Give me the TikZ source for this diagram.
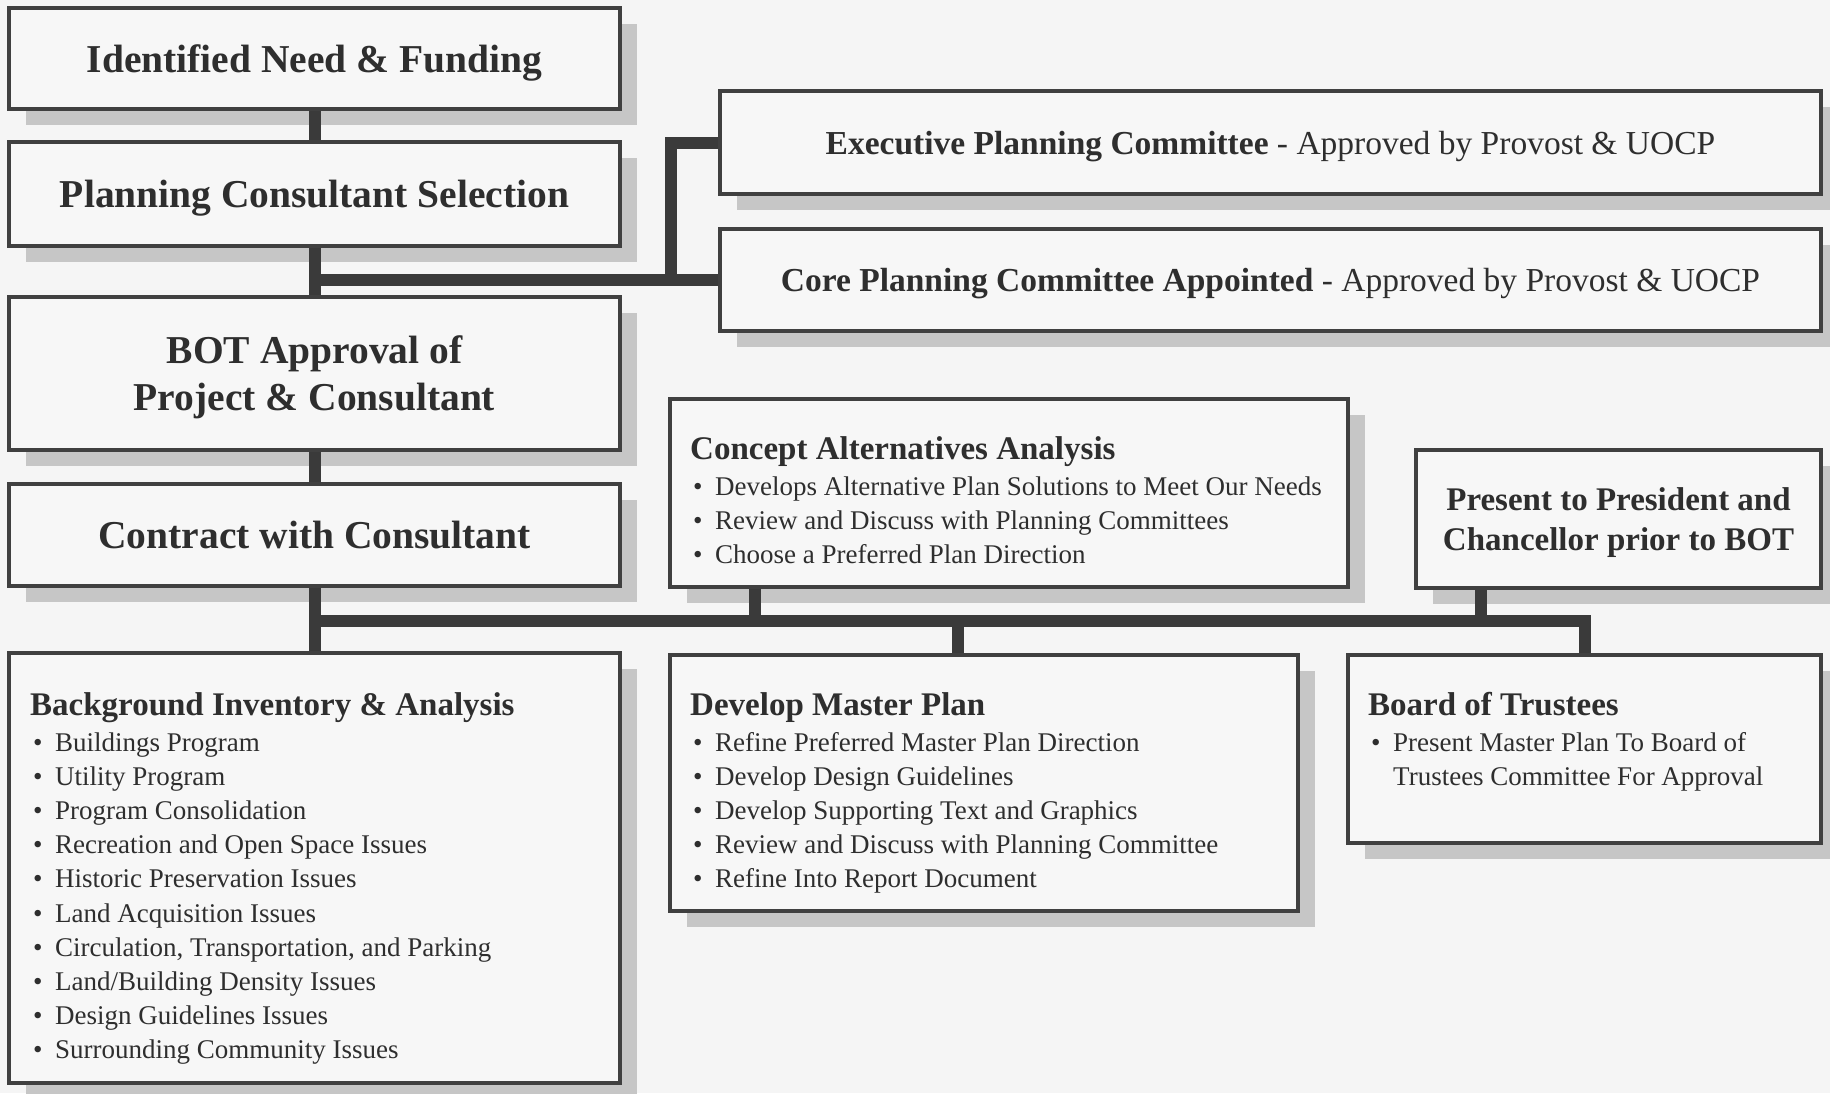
\documentclass[tikz,border=0pt]{standalone}
\usepackage{fontspec}
\setmainfont{Liberation Serif}
\usetikzlibrary{shadows}
\definecolor{pagebg}{HTML}{F5F5F5}
\definecolor{boxfill}{HTML}{F7F7F7}
\definecolor{bordergray}{HTML}{404040}
\definecolor{shadowgray}{HTML}{C6C6C6}
\definecolor{conngray}{HTML}{3A3A3A}
\definecolor{textgray}{HTML}{2E2E2E}
\newcommand{\lbul}{\hspace*{3pt}\makebox[22pt][l]{\textbullet}}
\tikzset{
  box/.style={draw=bordergray, line width=3.5pt, fill=boxfill, inner sep=0pt,
    text=textgray, align=center,
    drop shadow={shadow xshift=17pt, shadow yshift=-16pt, fill=shadowgray, opacity=1}},
  bigtitle/.style={font=\fontsize{39.5}{47}\selectfont\bfseries, text depth=0pt},
  committee/.style={font=\fontsize{33.5}{40}\selectfont, text depth=0pt},
  midtitle/.style={font=\fontsize{33}{40}\selectfont\bfseries, text depth=0pt},
  listtext/.style={anchor=base west, inner sep=0pt, text=textgray},
  conn/.style={draw=conngray, line width=12pt, line join=miter},
}
\begin{document}
\begin{tikzpicture}[x=1pt,y=-1pt]
\clip (0,0) rectangle (1830,1093);
\fill[pagebg] (0,0) rectangle (1830,1093);

% left column
\node[box, bigtitle, minimum width=611pt, minimum height=101pt] (need) at (314.5,58.5) {Identified Need \& Funding};
\node[box, bigtitle, minimum width=611pt, minimum height=104pt] (select) at (314.5,194) {Planning Consultant Selection};
\node[box, bigtitle, minimum width=611pt, minimum height=153pt] (bot) at (314.5,373.5) {BOT Approval of\\Project \& Consultant};
\node[box, bigtitle, minimum width=611pt, minimum height=102pt] (contract) at (314.5,535) {Contract with Consultant};
\node[box, minimum width=611pt, minimum height=430pt] (background) at (314.5,868) {};

% committees
\node[box, committee, minimum width=1101pt, minimum height=103pt] (exec) at (1270.5,142.5) {\textbf{Executive Planning Committee} - Approved by Provost \& UOCP};
\node[box, committee, minimum width=1101pt, minimum height=102pt] (core) at (1270.5,280) {\textbf{Core Planning Committee Appointed} - Approved by Provost \& UOCP};

% middle / right boxes
\node[box, minimum width=678pt, minimum height=188pt] (concept) at (1009,493) {};
\node[box, midtitle, minimum width=405pt, minimum height=138pt] (present) at (1618.5,519) {Present to President and\\Chancellor prior to BOT};
\node[box, minimum width=628pt, minimum height=256pt] (develop) at (984,783) {};
\node[box, minimum width=473pt, minimum height=188pt] (board) at (1584.5,749) {};

% list texts
\node[listtext] (bgtext) at (30,715) {\parbox[t]{580pt}{\fontsize{27}{34.2}\selectfont
{\fontsize{33}{34}\selectfont\bfseries Background Inventory \& Analysis}\\[1.8pt]
\lbul Buildings Program\\
\lbul Utility Program\\
\lbul Program Consolidation\\
\lbul Recreation and Open Space Issues\\
\lbul Historic Preservation Issues\\
\lbul Land Acquisition Issues\\
\lbul Circulation, Transportation, and Parking\\
\lbul Land/Building Density Issues\\
\lbul Design Guidelines Issues\\
\lbul Surrounding Community Issues}};

\node[listtext] (concepttext) at (690,459) {\parbox[t]{650pt}{\fontsize{27}{34.2}\selectfont
{\fontsize{33}{34}\selectfont\bfseries Concept Alternatives Analysis}\\[1.8pt]
\lbul Develops Alternative Plan Solutions to Meet Our Needs\\
\lbul Review and Discuss with Planning Committees\\
\lbul Choose a Preferred Plan Direction}};

\node[listtext] (developtext) at (690,715) {\parbox[t]{600pt}{\fontsize{27}{34.2}\selectfont
{\fontsize{33}{34}\selectfont\bfseries Develop Master Plan}\\[1.8pt]
\lbul Refine Preferred Master Plan Direction\\
\lbul Develop Design Guidelines\\
\lbul Develop Supporting Text and Graphics\\
\lbul Review and Discuss with Planning Committee\\
\lbul Refine Into Report Document}};

\node[listtext] (boardtext) at (1368,715) {\parbox[t]{450pt}{\fontsize{27}{34.2}\selectfont
{\fontsize{33}{34}\selectfont\bfseries Board of Trustees}\\[1.8pt]
\lbul Present Master Plan To Board of\\
\hspace*{25pt}Trustees Committee For Approval}};

% connectors
\coordinate (j1) at (314.5,280);
\coordinate (j2) at (671,280);
\coordinate (bar) at (314.5,621);
\coordinate (tconcept) at (755,621);
\coordinate (tdevelop) at (958,621);
\coordinate (tpresent) at (1481,621);
\coordinate (barend) at (1585,621);

\draw[conn] (need.south) -- (select.north);
\draw[conn] (select.south) -- (bot.north);
\draw[conn] (j1) -- (core.west);
\draw[conn] (j2) |- (exec.west);
\draw[conn] (bot.south) -- (contract.north);
\draw[conn] (contract.south) -- (background.north);
\draw[conn] (bar) -- (barend) -- (barend |- board.north);
\draw[conn] (tconcept) -- (tconcept |- concept.south);
\draw[conn] (tpresent) -- (tpresent |- present.south);
\draw[conn] (tdevelop) -- (tdevelop |- develop.north);
\end{tikzpicture}
\end{document}
